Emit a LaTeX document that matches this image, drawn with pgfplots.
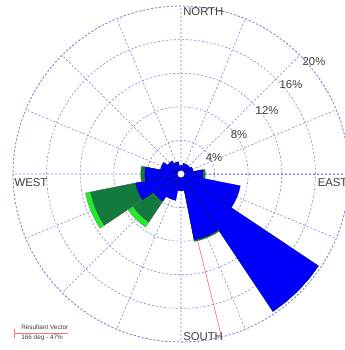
\documentclass[border=0pt]{standalone}
\usepackage{fontspec}
\setmainfont{Liberation Sans}
\usepackage{pgfplots}
\pgfplotsset{compat=1.18}
\usepgfplotslibrary{polar}
\definecolor{gridc}{RGB}{125,125,205}
\definecolor{wblue}{RGB}{0,0,250}
\definecolor{dgreen}{RGB}{18,122,60}
\definecolor{lgreen}{RGB}{30,240,40}
\definecolor{txt}{RGB}{60,60,60}
\definecolor{vec}{RGB}{240,120,120}
\begin{document}
\begin{tikzpicture}
\begin{polaraxis}[
  at={(0,0)}, anchor=center,
  scale only axis, width=252pt, height=252pt,
  xmin=0, xmax=360, ymin=0, ymax=20,
  xtick={0,22.5,...,337.5}, ytick={4,8,12,16,20},
  xticklabels={}, yticklabels={},
  major tick length=0pt,
  grid=major,
  major grid style={gridc, line width=0.4pt, dash pattern=on 1.6pt off 1.4pt},
  axis line style={gridc, line width=0.4pt, dash pattern=on 1.6pt off 1.4pt},
  clip=false,
]
% resultant vector (compass 166 deg -> math -76 deg)
\addplot[vec, line width=0.5pt] coordinates {(-76,0) (-76,19.7)};
% compass direction / blue / dark green / light green (percent)
\foreach \c/\b/\g/\l in {0/1.0/0/0, 22.5/1.3/0/0, 45/1.3/0/0, 67.5/1.5/0/0,
  90/2.6/0.3/0, 112.5/7.2/0/0, 135/19.7/0/0, 157.5/8.0/0.2/0,
  180/2.0/0/0, 202.5/3.2/0/0, 225/3.9/3.0/0.7, 247.5/5.5/5.5/0.6,
  270/4.3/0.5/0, 292.5/2.5/0/0, 315/1.9/0/0, 337.5/1.5/0/0}{
  \pgfmathsetmacro\a{90-\c}
  \pgfmathsetmacro\aA{\a-11.25}
  \pgfmathsetmacro\aB{\a-5.625}
  \pgfmathsetmacro\aD{\a+5.625}
  \pgfmathsetmacro\aE{\a+11.25}
  \pgfmathsetmacro\rA{\b}
  \pgfmathsetmacro\rB{\b+\g}
  \pgfmathsetmacro\rC{\b+\g+\l}
  \ifdim\l pt>0pt
    \edef\cmd{\noexpand\addplot[fill=lgreen, draw=black!60, line width=0.2pt] coordinates {(0,0) (\aA,\rC) (\aB,\rC) (\a,\rC) (\aD,\rC) (\aE,\rC)} -- cycle;}
    \cmd
  \fi
  \ifdim\g pt>0pt
    \edef\cmd{\noexpand\addplot[fill=dgreen, draw=black!60, line width=0.2pt] coordinates {(0,0) (\aA,\rB) (\aB,\rB) (\a,\rB) (\aD,\rB) (\aE,\rB)} -- cycle;}
    \cmd
  \fi
  \edef\cmd{\noexpand\addplot[fill=wblue, draw=black!60!blue, line width=0.2pt] coordinates {(0,0) (\aA,\rA) (\aB,\rA) (\a,\rA) (\aD,\rA) (\aE,\rA)} -- cycle;}
  \cmd
}
\coordinate (C) at (axis cs:0,0);
\fill[white] (axis cs:0,0) circle[radius=2.6pt];
\node[anchor=north west, font=\fontsize{8.5}{10}\selectfont, text=txt, inner sep=1pt, xshift=0.5pt] at (axis cs:90,20) {NORTH};
\node[anchor=south west, font=\fontsize{8.5}{10}\selectfont, text=txt, inner sep=1pt, xshift=0.5pt] at (axis cs:270,20) {SOUTH};
\node[anchor=north west, font=\fontsize{8.5}{10}\selectfont, text=txt, inner sep=1pt, yshift=-2pt] at (axis cs:180,20) {WEST};
\node[anchor=north east, font=\fontsize{8.5}{10}\selectfont, text=txt, inner sep=1pt, yshift=-2pt] at (axis cs:0,20) {EAST};
\node[font=\fontsize{8.5}{10}\selectfont, text=txt, inner sep=0pt] at (axis cs:25.9,4.37) {4\%};
\node[font=\fontsize{8.5}{10}\selectfont, text=txt, inner sep=0pt] at (axis cs:33.9,8.32) {8\%};
\node[font=\fontsize{8.5}{10}\selectfont, text=txt, inner sep=0pt] at (axis cs:36.2,12.7) {12\%};
\node[font=\fontsize{8.5}{10}\selectfont, text=txt, inner sep=0pt] at (axis cs:39.0,16.85) {16\%};
\node[font=\fontsize{8.5}{10}\selectfont, text=txt, inner sep=0pt] at (axis cs:40.1,20.7) {20\%};
\end{polaraxis}
\draw[vec, line width=0.5pt] ([shift={(-125.25pt,-119.25pt)}]C) -- ([shift={(-84.75pt,-119.25pt)}]C);
\draw[vec, line width=0.5pt] ([shift={(-125.25pt,-116.25pt)}]C) -- ([shift={(-125.25pt,-123pt)}]C);
\node[anchor=west, font=\fontsize{4.8}{5}\selectfont, text=txt, inner sep=0pt] at ([shift={(-120pt,-114.75pt)}]C) {Resultant Vector};
\node[anchor=west, font=\fontsize{4.8}{5}\selectfont, text=txt, inner sep=0pt] at ([shift={(-120pt,-123pt)}]C) {166 deg - 47\%};
\pgfresetboundingbox
\path[use as bounding box] ([shift={(-135.75pt,-132pt)}]C) rectangle ([shift={(122.25pt,130.5pt)}]C);
\end{tikzpicture}
\end{document}
